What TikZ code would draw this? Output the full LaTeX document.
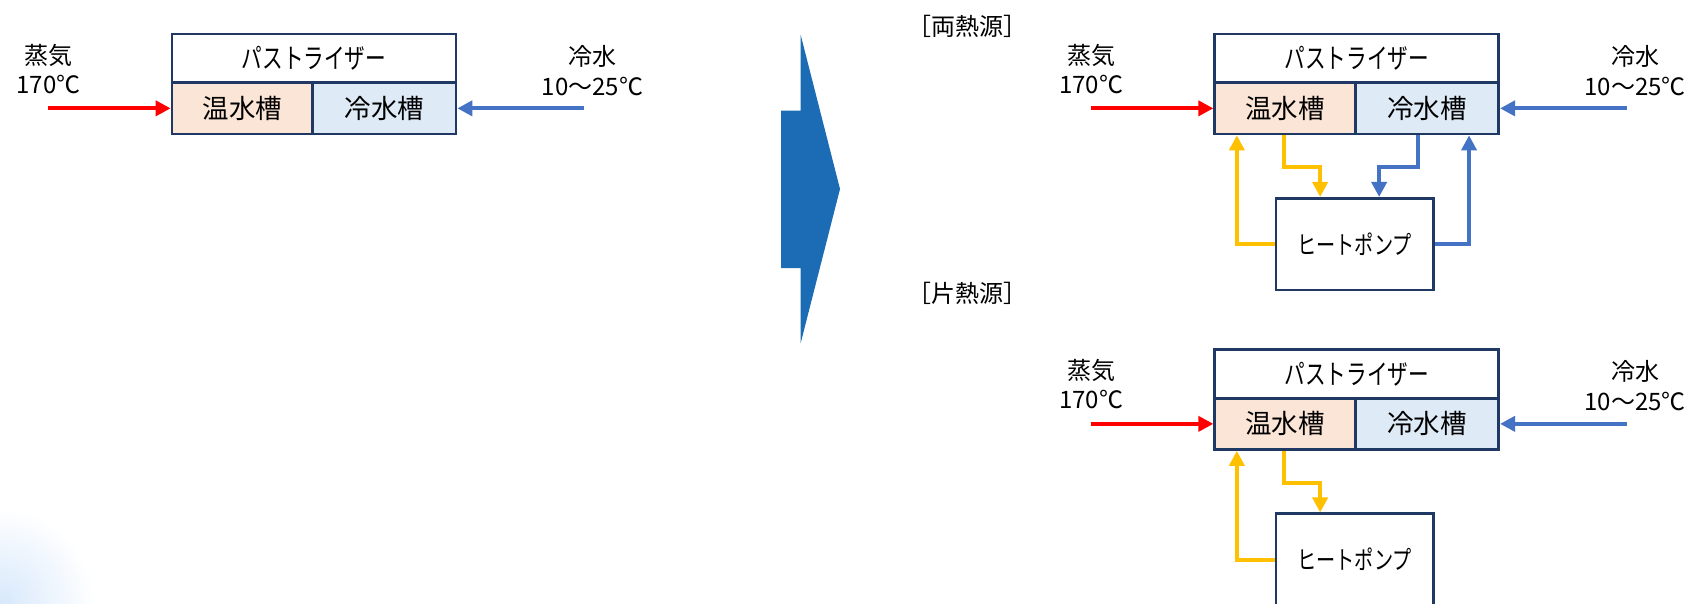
\documentclass[tikz,border=0pt]{standalone}
\usepackage{fontspec}
\setmainfont{Noto Sans CJK JP}
\newfontfamily\jpc[FakeStretch=0.75]{Noto Sans CJK JP}
\usetikzlibrary{arrows.meta}
\definecolor{navy}{RGB}{32,56,100}
\definecolor{hotfill}{RGB}{251,229,214}
\definecolor{coldfill}{RGB}{222,235,247}
\definecolor{arrowblue}{RGB}{68,114,196}
\definecolor{amber}{RGB}{255,192,0}
\definecolor{bigblue}{RGB}{28,108,181}
\definecolor{glow}{RGB}{215,232,251}
\tikzset{
  tank/.style={draw=navy, line width=2.7pt, inner sep=0pt, minimum height=51.3pt, font=\fontsize{26.5}{28}\selectfont},
  hottank/.style={tank, fill=hotfill, minimum width=140.7pt},
  coldtank/.style={tank, fill=coldfill, minimum width=143.3pt},
  titlebox/.style={draw=navy, line width=2.7pt, fill=white, inner sep=0pt, minimum width=284pt, minimum height=48.7pt, font=\jpc\fontsize{27.5}{30}\selectfont},
  hpbox/.style={draw=navy, line width=2.7pt, fill=white, inner sep=0pt, minimum width=157.3pt, minimum height=91.7pt, font=\jpc\fontsize{25.5}{28}\selectfont},
  lbl/.style={inner sep=0pt, font=\fontsize{24}{26}\selectfont},
  flow/.style={line width=4pt, -{Triangle[length=15pt,width=15pt]}},
  steamflow/.style={flow, draw=red},
  coolflow/.style={flow, draw=arrowblue},
  loopwarm/.style={flow, draw=amber, line width=3.8pt},
  loopcool/.style={flow, draw=arrowblue, line width=3.8pt},
}
\newcommand\pastgroup[3]{%
  \begin{scope}[shift={(#2,#3)}]
    \node[hottank] (#1h) at (242.35,108.35) {温水槽};
    \node[coldtank] (#1c) at (384.35,108.35) {冷水槽};
    \node[titlebox] (#1t) at (314,58.35) {パストライザー};
    \node[lbl] (#1s) at (48.5,55) {蒸気};
    \node[lbl] (#1k) at (48.5,84) {170℃};
    \node[lbl] (#1w) at (592.5,56) {冷水};
    \node[lbl] (#1r) at (592.5,86) {10〜25℃};
    \coordinate (#1in) at (48,108.35);
    \coordinate (#1out) at (584,108.35);
    \draw[steamflow] (#1in) -- (#1h.west);
    \draw[coolflow] (#1out) -- (#1c.east);
  \end{scope}}
\begin{document}
\begin{tikzpicture}[x=1pt, y=-1pt]
  \clip (0,0) rectangle (1693,603);
  \fill[white] (0,0) rectangle (1693,603);
  \shade[inner color=glow, outer color=white] (0,603) circle (95pt);
  % big transition arrow
  \fill[bigblue] (781,110.7) -- (800.7,110.7) -- (800.7,35) -- (840,189)
    -- (800.7,343) -- (800.7,268) -- (781,268) -- cycle;
  % groups
  \pastgroup{L}{0}{0}
  \pastgroup{B}{1042.7}{0}
  \pastgroup{S}{1042.7}{315.5}
  \node[lbl] (both) at (967.5,26) {［両熱源］};
  \node[lbl] (single) at (967.5,293.3) {［片熱源］};
  % heat pumps
  \node[hpbox] (hp1) at (1354.65,244.15) {ヒートポンプ};
  \node[hpbox] (hp2) at (1354.65,559.65) {ヒートポンプ};
  % both-source loops
  \draw[loopwarm] (hp1.west) -| ([xshift=23.5pt]Bh.south west);
  \draw[loopwarm] ([xshift=70.5pt]Bh.south west) -- ++(0,32) -| ([xshift=45.5pt]hp1.north west);
  \draw[loopcool] ([xshift=-82pt]Bc.south east) -- ++(0,32) -| ([xshift=-55.5pt]hp1.north east);
  \draw[loopcool] (hp1.east) -| ([xshift=-31pt]Bc.south east);
  % single-source loops
  \draw[loopwarm] (hp2.west) -| ([xshift=23.5pt]Sh.south west);
  \draw[loopwarm] ([xshift=70.5pt]Sh.south west) -- ++(0,32) -| ([xshift=45.5pt]hp2.north west);
\end{tikzpicture}
\end{document}
